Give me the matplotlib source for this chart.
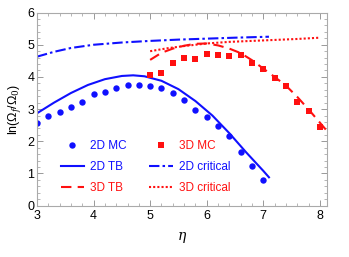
import numpy as np
import matplotlib.pyplot as plt
from matplotlib.ticker import MultipleLocator

# 2D Monte Carlo points
eta_2d_mc = [3.0, 3.2, 3.4, 3.6, 3.8, 4.0, 4.2, 4.4, 4.6, 4.8, 5.0, 5.2,
             5.4, 5.6, 5.8, 6.0, 6.2, 6.4, 6.6, 6.8, 7.0]
ln_2d_mc = [2.56, 2.77, 2.91, 3.08, 3.23, 3.46, 3.53, 3.67, 3.76, 3.76, 3.72, 3.67,
            3.51, 3.28, 2.96, 2.75, 2.46, 2.15, 1.66, 1.24, 0.80]

# 3D Monte Carlo points
eta_3d_mc = [5.0, 5.2, 5.4, 5.6, 5.8, 6.0, 6.2, 6.4, 6.6, 6.8, 7.0, 7.2, 7.4, 7.6, 7.8, 8.0]
ln_3d_mc = [4.05, 4.13, 4.43, 4.58, 4.56, 4.71, 4.69, 4.64, 4.69, 4.43, 4.25, 3.98,
            3.73, 3.22, 2.95, 2.44]

# 2D theory (TB)
eta_2d_tb = [3.0, 3.3, 3.6, 3.9, 4.2, 4.5, 4.7, 4.9, 5.2, 5.5, 5.8, 6.1, 6.4, 6.7, 7.0, 7.1]
ln_2d_tb = [2.87, 3.20, 3.50, 3.75, 3.93, 4.03, 4.05, 4.02, 3.88, 3.62, 3.25, 2.80,
            2.25, 1.65, 1.08, 0.88]

# 3D theory (TB)
eta_3d_tb = [5.0, 5.2, 5.4, 5.6, 5.8, 6.0, 6.2, 6.4, 6.6, 6.8, 7.0, 7.2, 7.4, 7.6, 7.8, 8.0, 8.12]
ln_3d_tb = [4.53, 4.75, 4.88, 4.97, 5.03, 5.04, 4.98, 4.88, 4.74, 4.52, 4.26, 4.00,
            3.73, 3.38, 2.99, 2.58, 2.33]

# 2D critical
eta_2d_cr = [3.0, 3.3, 3.6, 4.0, 4.5, 5.0, 5.5, 6.0, 6.5, 7.1]
ln_2d_cr = [4.63, 4.78, 4.90, 5.00, 5.07, 5.12, 5.16, 5.19, 5.22, 5.25]

# 3D critical
eta_3d_cr = [5.0, 5.3, 5.6, 6.0, 6.4, 6.8, 7.2, 7.6, 8.0]
ln_3d_cr = [4.80, 4.89, 4.96, 5.04, 5.09, 5.12, 5.15, 5.18, 5.22]

plt.rcParams['font.family'] = ['Liberation Sans', 'DejaVu Sans']
plt.rcParams['mathtext.fontset'] = 'dejavuserif'

fig = plt.figure(figsize=(3.49, 2.57), dpi=100)
ax = fig.add_axes([0.106, 0.2, 0.83, 0.751])

blue = '#1010ff'
red = '#ff1010'

# plotted in legend order (column-wise: left column first)
ax.plot(eta_2d_mc, ln_2d_mc, 'o', color=blue, ms=4.6, mew=0, label='2D MC')
ax.plot(eta_2d_tb, ln_2d_tb, '-', color=blue, lw=1.5, label='2D TB')
ax.plot(eta_3d_tb, ln_3d_tb, color=red, lw=1.5, ls=(0, (5, 3)), label='3D TB')
ax.plot(eta_3d_mc, ln_3d_mc, 's', color=red, ms=4.2, mew=0, label='3D MC')
ax.plot(eta_2d_cr, ln_2d_cr, color=blue, lw=1.5, ls=(0, (5, 1.5, 1.2, 1.5)), label='2D critical')
ax.plot(eta_3d_cr, ln_3d_cr, color=red, lw=1.5, ls=(0, (1, 1)), label='3D critical')

ax.set_xlim(3, 8.12)
ax.set_ylim(0, 6)
ax.xaxis.set_major_locator(MultipleLocator(1))
ax.xaxis.set_minor_locator(MultipleLocator(0.2))
ax.yaxis.set_major_locator(MultipleLocator(1))
ax.yaxis.set_minor_locator(MultipleLocator(0.2))
ax.tick_params(which='both', direction='in', top=True, right=True,
               color='#999999', labelsize=9, pad=2)
ax.tick_params(which='major', length=4, width=0.7)
ax.tick_params(which='minor', length=2, width=0.5)
ax.tick_params(axis='x', pad=3)
for s in ax.spines.values():
    s.set_color('#aaaaaa')
    s.set_linewidth(0.8)

ax.set_xlabel(r'$\eta$', fontsize=10, labelpad=6)
ax.set_ylabel(r'ln(Ω$_f$/Ω$_0$)', fontsize=9, labelpad=3)

leg = ax.legend(loc='lower left', bbox_to_anchor=(0.065, 0.035), ncol=2, frameon=False,
                fontsize=8.5, handlelength=2.0, handletextpad=0.5, columnspacing=1.9,
                labelspacing=0.75, borderaxespad=0)
for t, h in zip(leg.get_texts(), leg.legend_handles):
    t.set_color(h.get_color())

fig.savefig('out.png', dpi=100)
